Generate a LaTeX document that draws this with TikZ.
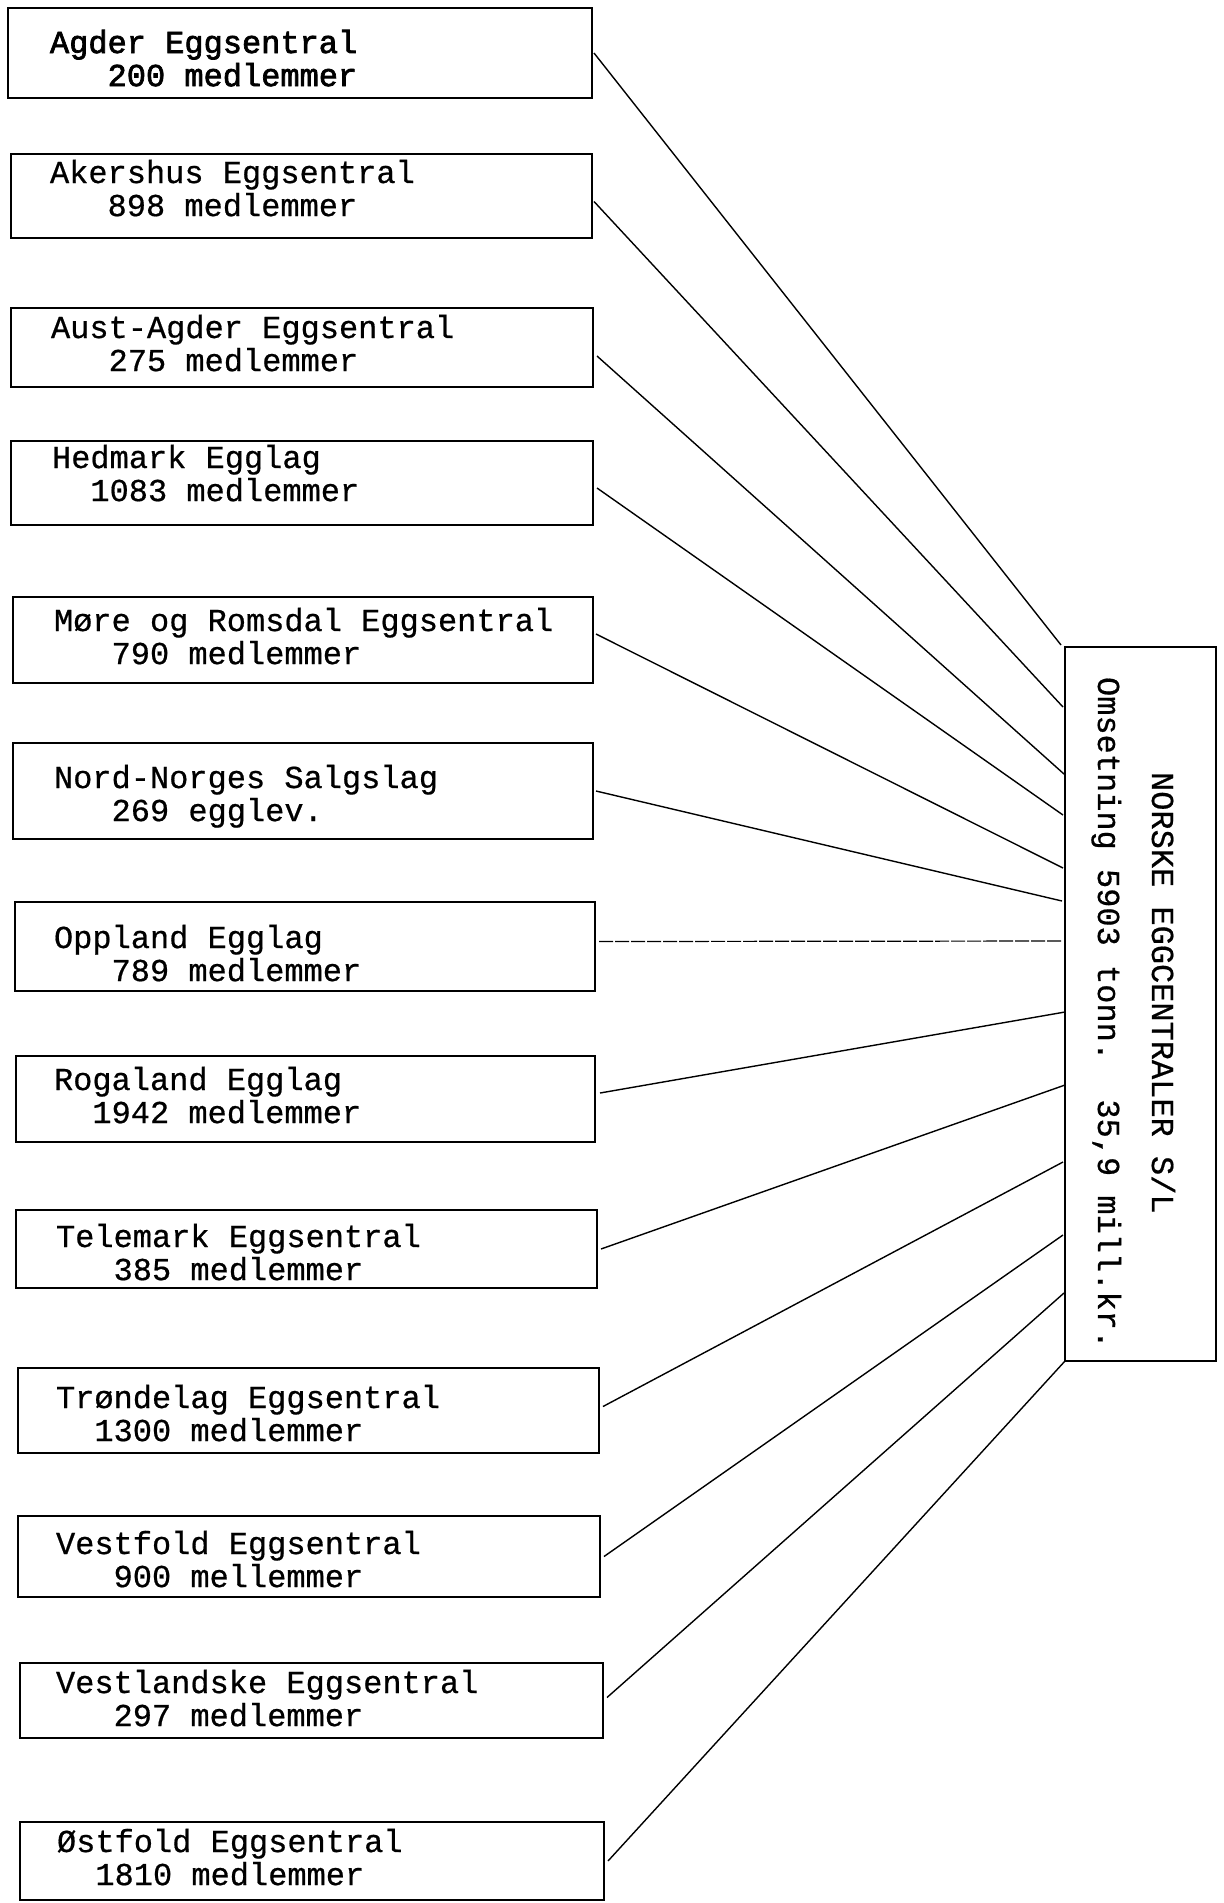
\documentclass[tikz,border=0pt]{standalone}
\usepackage{fontspec}
\newfontfamily\tw{Liberation Mono}[FakeBold=0.6]
\newfontfamily\twb{Liberation Mono}[FakeBold=2.2]
\usetikzlibrary{fit,calc}
\begin{document}
\begin{tikzpicture}[x=0.5pt,y=-0.5pt,
  orgbox/.style={draw, line width=0.9pt, inner sep=0pt, outer sep=0pt},
  lbl/.style={inner sep=0pt, outer sep=0pt, anchor=base west, font=\tw\fontsize{16}{16.5}\selectfont},
  link/.style={line width=0.7pt},
  dotlink/.style={line width=0.6pt, dash pattern=on 7pt off 1pt},
]
\path[use as bounding box] (0,0) rectangle (1223,1903);

% member boxes
\node[orgbox, fit={(8,8)(592,98)}] (b1) {};
\node[orgbox, fit={(11,154)(592,238)}] (b2) {};
\node[orgbox, fit={(11,308)(593,387)}] (b3) {};
\node[orgbox, fit={(11,441)(593,525)}] (b4) {};
\node[orgbox, fit={(13,597)(593,683)}] (b5) {};
\node[orgbox, fit={(13,743)(593,839)}] (b6) {};
\node[orgbox, fit={(15,902)(595,991)}] (b7) {};
\node[orgbox, fit={(16,1056)(595,1142)}] (b8) {};
\node[orgbox, fit={(16,1210)(597,1288)}] (b9) {};
\node[orgbox, fit={(18,1368)(599,1453)}] (b10) {};
\node[orgbox, fit={(18,1516)(600,1597)}] (b11) {};
\node[orgbox, fit={(20,1663)(603,1738)}] (b12) {};
\node[orgbox, fit={(20,1822)(604,1900)}] (b13) {};

% texts
\node[lbl, font=\twb\fontsize{16}{16.5}\selectfont] (t1) at (50,53) {\begin{tabular}[t]{@{}l@{}}Agder Eggsentral\\\phantom{000}200 medlemmer\end{tabular}};
\node[lbl] (t2) at (50,183) {\begin{tabular}[t]{@{}l@{}}Akershus Eggsentral\\\phantom{000}898 medlemmer\end{tabular}};
\node[lbl] (t3) at (51,338) {\begin{tabular}[t]{@{}l@{}}Aust-Agder Eggsentral\\\phantom{000}275 medlemmer\end{tabular}};
\node[lbl] (t4) at (52,468) {\begin{tabular}[t]{@{}l@{}}Hedmark Egglag\\\phantom{00}1083 medlemmer\end{tabular}};
\node[lbl] (t5) at (54,631) {\begin{tabular}[t]{@{}l@{}}M\o re og Romsdal Eggsentral\\\phantom{000}790 medlemmer\end{tabular}};
\node[lbl] (t6) at (54,788) {\begin{tabular}[t]{@{}l@{}}Nord-Norges Salgslag\\\phantom{000}269 egglev.\end{tabular}};
\node[lbl] (t7) at (54,948) {\begin{tabular}[t]{@{}l@{}}Oppland Egglag\\\phantom{000}789 medlemmer\end{tabular}};
\node[lbl] (t8) at (54,1090) {\begin{tabular}[t]{@{}l@{}}Rogaland Egglag\\\phantom{00}1942 medlemmer\end{tabular}};
\node[lbl] (t9) at (56,1247) {\begin{tabular}[t]{@{}l@{}}Telemark Eggsentral\\\phantom{000}385 medlemmer\end{tabular}};
\node[lbl] (t10) at (56,1408) {\begin{tabular}[t]{@{}l@{}}Tr\o ndelag Eggsentral\\\phantom{00}1300 medlemmer\end{tabular}};
\node[lbl] (t11) at (56,1554) {\begin{tabular}[t]{@{}l@{}}Vestfold Eggsentral\\\phantom{000}900 mellemmer\end{tabular}};
\node[lbl] (t12) at (56,1693) {\begin{tabular}[t]{@{}l@{}}Vestlandske Eggsentral\\\phantom{000}297 medlemmer\end{tabular}};
\node[lbl] (t13) at (57,1852) {\begin{tabular}[t]{@{}l@{}}\O stfold Eggsentral\\\phantom{00}1810 medlemmer\end{tabular}};

% central box
\node[orgbox, fit={(1065,647)(1216,1361)}] (main) {};
\node[lbl, rotate=-90] (n1) at (1152,772) {NORSKE EGGCENTRALER S/L};
\node[lbl, rotate=-90] (n2) at (1098,677) {Omsetning 5903 tonn.\ \ 35,9 mill.kr.};

% connector ends on the central box
\coordinate (m1) at (1061,645);
\coordinate (m2) at (1063,707);
\coordinate (m3) at (1064,774);
\coordinate (m4) at (1063,815);
\coordinate (m5) at (1063,868);
\coordinate (m6) at (1062,901);
\coordinate (m7) at (1063,941);
\coordinate (m8) at (1065,1012);
\coordinate (m9) at (1065,1085);
\coordinate (m10) at (1063,1162);
\coordinate (m11) at (1063,1235);
\coordinate (m12) at (1064,1293);
\coordinate (m13) at (1065,1361);

% connectors
\draw[link] ($(b1.east)+(2,0)$) -- (m1);
\draw[link] ($(b2.east)+(2,5.5)$) -- (m2);
\draw[link] ($(b3.east)+(4,8.5)$) -- (m3);
\draw[link] ($(b4.east)+(4,5)$) -- (m4);
\draw[link] ($(b5.east)+(3,-6)$) -- (m5);
\draw[link] ($(b6.east)+(3,0)$) -- (m6);
\draw[dotlink] ($(b7.east)+(4,-5)$) -- (m7);
\draw[link] ($(b8.east)+(5,-6)$) -- (m8);
\draw[link] ($(b9.east)+(4,0)$) -- (m9);
\draw[link] ($(b10.east)+(4,-4)$) -- (m10);
\draw[link] ($(b11.east)+(4,0)$) -- (m11);
\draw[link] ($(b12.east)+(4,-3)$) -- (m12);
\draw[link] ($(b13.east)+(4,0)$) -- (m13);
\end{tikzpicture}
\end{document}
